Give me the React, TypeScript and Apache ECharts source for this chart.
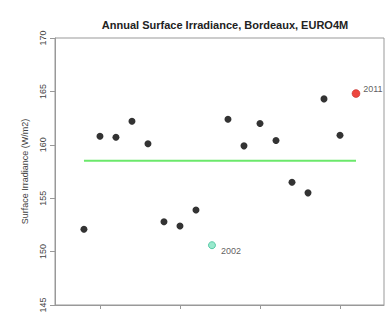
import React, { useEffect, useRef } from "react";
import * as echarts from "echarts";

const years = [1994, 1995, 1996, 1997, 1998, 1999, 2000, 2001, 2002, 2003, 2004, 2005, 2006, 2007, 2008, 2009, 2010, 2011];
const values = [152.1, 160.8, 160.7, 162.2, 160.1, 152.8, 152.4, 153.9, 150.6, 162.4, 159.9, 162.0, 160.4, 156.5, 155.5, 164.3, 160.9, 164.8];
const meanValue = 158.5;
const xTicks = [1995, 2000, 2005, 2010];
const lowYear = 2002;
const highYear = 2011;

const FONT = "Liberation Sans, Arial, Helvetica, sans-serif";

export default function App() {
  const ref = useRef<HTMLDivElement>(null);
  useEffect(() => {
    if (!ref.current) return;
    const chart = echarts.init(ref.current, null, { renderer: "svg" });
    const normal = years
      .map((y, i) => [y, values[i]])
      .filter((d) => d[0] !== lowYear && d[0] !== highYear);
    const low = years.map((y, i) => [y, values[i]]).filter((d) => d[0] === lowYear);
    const high = years.map((y, i) => [y, values[i]]).filter((d) => d[0] === highYear);
    chart.setOption({
      animation: false,
      backgroundColor: "#fff",
      textStyle: { fontFamily: FONT },
      title: {
        text: "Annual Surface Irradiance, Bordeaux, EURO4M",
        left: 220,
        top: 14,
        textAlign: "center",
        textStyle: { fontSize: 11, fontWeight: "bold", color: "#222", fontFamily: FONT },
      },
      grid: {
        left: 55,
        right: 8,
        top: 38,
        bottom: 8,
        outerBoundsMode: "none",
        containLabel: false,
        show: true,
        borderColor: "#999",
        borderWidth: 1,
        backgroundColor: "transparent",
      },
      xAxis: {
        type: "value",
        min: 1992.19,
        max: 2012.75,
        splitLine: { show: false },
        axisLine: { show: true, lineStyle: { color: "#999" } },
        axisTick: { show: true, length: 4, customValues: xTicks, lineStyle: { color: "#999" } },
        axisLabel: {
          customValues: xTicks,
          margin: 6,
          fontSize: 9,
          color: "#444",
          fontFamily: FONT,
          formatter: (v: number) => String(v),
        },
      },
      yAxis: {
        type: "value",
        min: 145,
        max: 170,
        interval: 5,
        name: "Surface Irradiance (W/m2)",
        nameLocation: "middle",
        nameRotate: 90,
        nameGap: 26,
        nameTextStyle: { fontSize: 9, color: "#444", fontFamily: FONT },
        splitLine: { show: false },
        axisLine: { show: true, lineStyle: { color: "#999" } },
        axisTick: { show: true, length: 5, lineStyle: { color: "#999" } },
        axisLabel: { rotate: 90, margin: 8, fontSize: 9, color: "#444", fontFamily: FONT, showMinLabel: true, showMaxLabel: true },
      },
      series: [
        {
          type: "line",
          data: [
            [years[0], meanValue],
            [years[years.length - 1], meanValue],
          ],
          symbol: "none",
          lineStyle: { color: "#6be86b", width: 2 },
          z: 1,
        },
        {
          type: "scatter",
          data: normal,
          symbolSize: 7,
          itemStyle: { color: "#000" },
          z: 3,
        },
        {
          type: "scatter",
          data: low,
          symbolSize: 7,
          itemStyle: { color: "#7fe3c0", borderColor: "#3fbf98", borderWidth: 1 },
          label: {
            show: true,
            position: "right",
            offset: [0, 6],
            formatter: (p: any) => String(p.value[0]),
            fontSize: 9,
            color: "#333",
            fontFamily: FONT,
          },
          z: 3,
        },
        {
          type: "scatter",
          data: high,
          symbolSize: 8,
          itemStyle: { color: "#e8190f", borderColor: "#b01010", borderWidth: 0.5 },
          label: {
            show: true,
            position: "right",
            offset: [-2, -5],
            formatter: (p: any) => String(p.value[0]),
            fontSize: 9,
            color: "#333",
            fontFamily: FONT,
          },
          z: 3,
        },
      ],
    });
    return () => chart.dispose();
  }, []);
  return (
    <div
      ref={ref}
      style={{ position: "fixed", left: 0, top: 0, width: 392, height: 313, overflow: "hidden" }}
    />
  );
}
